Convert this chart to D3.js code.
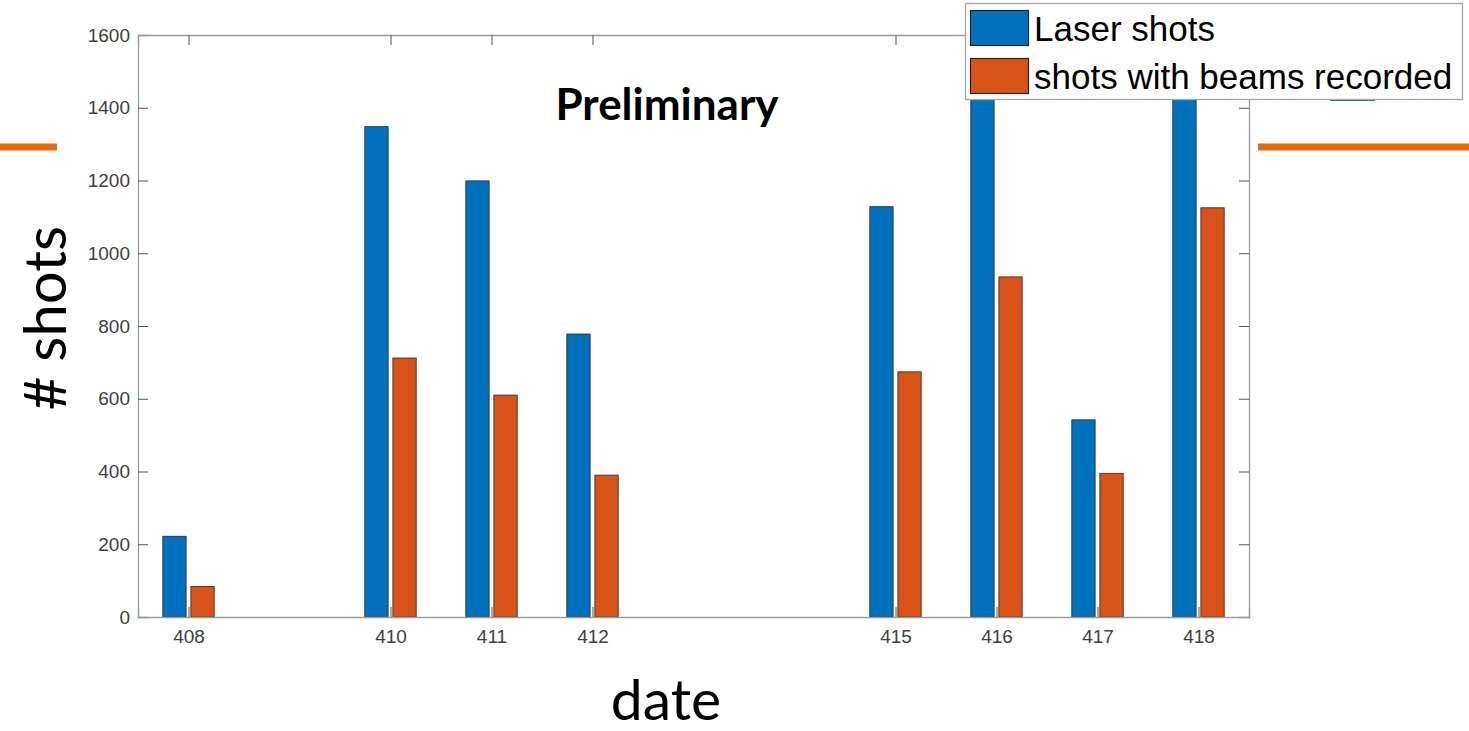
<!DOCTYPE html>
<html><head><meta charset="utf-8">
<script src="https://cdn.jsdelivr.net/npm/d3@7"></script>
<style>html,body{margin:0;padding:0;background:#fff;}svg{display:block;}</style>
</head><body>
<svg id="chart" width="1469" height="731"></svg>
<script>
// ---- data ----
const categories = [408, 410, 411, 412, 415, 416, 417, 418];
const laserShots = [222, 1348, 1199, 778, 1128, 1500, 542, 1510];
const beamsRecorded = [84, 712, 610, 390, 674, 935, 395, 1125];
const yTickValues = [0, 200, 400, 600, 800, 1000, 1200, 1400, 1600];
const seriesNames = ["Laser shots", "shots with beams recorded"];
const seriesColors = ["#0072BD", "#D95319"];

const svg = d3.select("#chart");
const L = 138, R = 1249, T = 35, B = 617;
const x = d3.scaleLinear().domain([407.5, 418.5]).range([L, R]);
const y = d3.scaleLinear().domain([0, 1600]).range([B, T]);

// slide decorations (orange rules)
svg.append("rect").attr("x", 0).attr("y", 143.5).attr("width", 57).attr("height", 7).attr("fill", "#E46C0A");
svg.append("rect").attr("x", 1258).attr("y", 143.5).attr("width", 211).attr("height", 7).attr("fill", "#E46C0A");

svg.append("defs").append("clipPath").attr("id", "plotclip")
  .append("rect").attr("x", L).attr("y", T).attr("width", R - L).attr("height", B - T);

const barW = x(408.231) - x(408);
const off = 0.139;
const series = [laserShots, beamsRecorded];
const gBars = svg.append("g").attr("clip-path", "url(#plotclip)");
series.forEach((vals, si) => {
  gBars.selectAll(null).data(categories.map((c, i) => ({c, v: vals[i]})))
    .enter().append("rect")
    .attr("x", d => x(d.c + (si === 0 ? -off : off)) - barW / 2)
    .attr("y", d => y(d.v))
    .attr("width", barW)
    .attr("height", d => y(0) - y(d.v))
    .attr("fill", seriesColors[si])
    .attr("stroke", "#262626").attr("stroke-width", 0.8);
});

// axes
const axisCol = "#9a9a9a";
const tickCol = "#555";
const labCol = "#404040";
const font = "'Liberation Sans', Arial, sans-serif";

const yAxis = svg.append("g").attr("transform", `translate(${L},0)`)
  .call(d3.axisLeft(y).tickValues(yTickValues).tickSize(-10).tickPadding(8).tickFormat(d3.format("d")));
yAxis.select(".domain").attr("stroke", axisCol).attr("stroke-width", 1.3);
yAxis.selectAll(".tick line").attr("stroke", tickCol);
yAxis.selectAll("text").attr("fill", labCol).style("font-family", font).style("font-size", "19px");

const yAxisR = svg.append("g").attr("transform", `translate(${R},0)`)
  .call(d3.axisRight(y).tickValues(yTickValues).tickSize(-10).tickFormat(""));
yAxisR.select(".domain").attr("stroke", axisCol).attr("stroke-width", 1.3);
yAxisR.selectAll(".tick line").attr("stroke", tickCol);

const xAxis = svg.append("g").attr("transform", `translate(0,${B})`)
  .call(d3.axisBottom(x).tickValues(categories).tickSize(-10).tickPadding(13).tickFormat(d3.format("d")));
xAxis.select(".domain").attr("stroke", axisCol).attr("stroke-width", 1.3);
xAxis.selectAll(".tick line").attr("stroke", tickCol);
xAxis.selectAll("text").attr("fill", labCol).style("font-family", font).style("font-size", "19px");

const xAxisT = svg.append("g").attr("transform", `translate(0,${T})`)
  .call(d3.axisTop(x).tickValues(categories).tickSize(-10).tickFormat(""));
xAxisT.select(".domain").attr("stroke", axisCol).attr("stroke-width", 1.3);
xAxisT.selectAll(".tick line").attr("stroke", tickCol);

// annotations
svg.append("text").attr("x", 667).attr("y", 120).attr("text-anchor", "middle")
  .style("font-family", "Lato, 'Open Sans', sans-serif").style("font-weight", "bold").style("font-size", "44px")
  .attr("fill", "#000").text("Preliminary");

svg.append("text").attr("transform", "translate(66,318) rotate(-90)").attr("text-anchor", "middle")
  .style("font-family", "Lato, 'Open Sans', sans-serif").style("font-size", "58px").attr("fill", "#000").text("# shots");

svg.append("text").attr("x", 666).attr("y", 720).attr("text-anchor", "middle")
  .style("font-family", "Lato, 'Open Sans', sans-serif").style("font-size", "57px").attr("fill", "#000").text("date");

// small stray blue fragment under legend (as in the reference)
svg.append("rect").attr("x", 1330).attr("y", 96).attr("width", 45).attr("height", 5).attr("fill", "#0072BD");

// legend
const lg = svg.append("g");
lg.append("rect").attr("x", 965.5).attr("y", 3.5).attr("width", 497).attr("height", 96)
  .attr("fill", "#fff").attr("stroke", "#a6a6a6").attr("stroke-width", 1.3);
seriesNames.forEach((n, i) => {
  const yy = 10 + i * 48;
  lg.append("rect").attr("x", 970.5).attr("y", yy + 0.5).attr("width", 58).attr("height", 35)
    .attr("fill", seriesColors[i]).attr("stroke", "#262626").attr("stroke-width", 1.2);
  lg.append("text").attr("x", 1034).attr("y", yy + 31).attr("fill", "#000")
    .style("font-family", font).style("font-size", "35px").text(n);
});
</script>
</body></html>
